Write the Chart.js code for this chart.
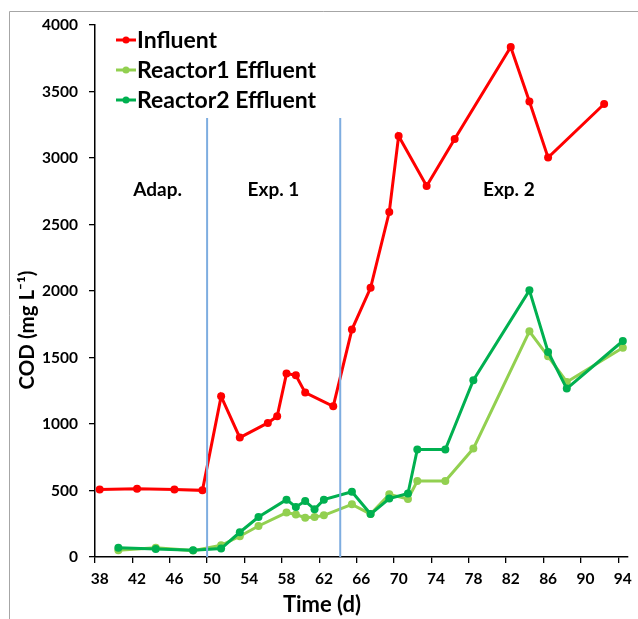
<!DOCTYPE html>
<html>
<head>
<meta charset="utf-8">
<script src="https://cdn.jsdelivr.net/npm/chart.js@4/dist/chart.umd.min.js"></script>
<style>
  html, body { margin: 0; padding: 0; background: #fff; }
  #wrap { width: 638px; height: 619px; }
</style>
</head>
<body>
<div id="wrap"><canvas id="cod-chart"></canvas></div>
<script>
const influentDays = [38, 42, 46, 49, 51, 53, 56, 57, 58, 59, 60, 63, 65, 67, 69, 70, 73, 76, 82, 84, 86, 92];
const influent = [507, 513, 507, 501, 1208, 898, 1008, 1058, 1379, 1366, 1236, 1133, 1710, 2024, 2594, 3165, 2790, 3143, 3835, 3424, 3003, 3406];

const effluentDays = [40, 44, 48, 51, 53, 55, 58, 59, 60, 61, 62, 65, 67, 69, 71, 72, 75, 78, 84, 86, 88, 94];
const reactor1 = [50, 70, 48, 88, 156, 233, 334, 319, 296, 301, 313, 396, 323, 471, 436, 571, 571, 815, 1697, 1509, 1316, 1574];
const reactor2 = [70, 60, 50, 63, 186, 301, 431, 376, 421, 359, 431, 491, 323, 439, 477, 808, 808, 1329, 2005, 1541, 1266, 1624];

const xTickLabels = [38, 42, 46, 50, 54, 58, 62, 66, 70, 74, 78, 82, 86, 90, 94];
const phaseBounds = [49.5, 63.75];
const phaseTop = 3300;
const phaseNames = ['Adap.', 'Exp. 1', 'Exp. 2'];
const phaseNameX = [44.2, 56.6, 81.8];
const phaseNameY = 2760;

const FONT = 'Lato, "Liberation Sans", sans-serif';

function pts(xs, ys) {
  return xs.map((x, i) => ({ x: x, y: ys[i] }));
}

const series = [
  { label: 'Influent', data: pts(influentDays, influent), color: '#FF0000', order: 1 },
  { label: 'Reactor1 Effluent', data: pts(effluentDays, reactor1), color: '#92D050', order: 3 },
  { label: 'Reactor2 Effluent', data: pts(effluentDays, reactor2), color: '#00B050', order: 2 }
];

const datasets = series.map(s => ({
  label: s.label,
  data: s.data,
  borderColor: s.color,
  backgroundColor: s.color,
  pointBackgroundColor: s.color,
  pointBorderColor: s.color,
  borderWidth: 3,
  pointRadius: 4,
  pointBorderWidth: 0,
  tension: 0,
  order: s.order
}));

phaseBounds.forEach(b => {
  datasets.push({
    label: '',
    data: [{ x: b, y: 0 }, { x: b, y: phaseTop }],
    borderColor: '#7EADE0',
    borderWidth: 2,
    pointRadius: 0,
    order: 0
  });
});

// frame, titles, phase names and the legend
const extras = {
  id: 'extras',
  beforeDraw(chart) {
    const ctx = chart.ctx;
    ctx.save();
    ctx.fillStyle = '#fff';
    ctx.fillRect(0, 0, chart.width, chart.height);
    ctx.strokeStyle = '#A6A6A6';
    ctx.lineWidth = 1;
    ctx.beginPath();
    ctx.moveTo(9.5, chart.height);
    ctx.lineTo(9.5, 11.5);
    ctx.lineTo(chart.width, 11.5);
    ctx.stroke();
    ctx.restore();
  },
  afterDraw(chart) {
    const ctx = chart.ctx;
    const xs = chart.scales.x, ys = chart.scales.y;
    ctx.save();
    ctx.fillStyle = '#000';
    ctx.textAlign = 'center';
    ctx.textBaseline = 'middle';

    ctx.font = 'bold 19px ' + FONT;
    phaseNames.forEach((n, i) => {
      ctx.fillText(n, xs.getPixelForValue(phaseNameX[i]), ys.getPixelForValue(phaseNameY));
    });

    ctx.font = 'bold 22px ' + FONT;
    ctx.fillText('Time (d)', 322, 605);

    ctx.save();
    ctx.translate(27, 330);
    ctx.rotate(-Math.PI / 2);
    ctx.font = 'bold 20.5px ' + FONT;
    ctx.fillText('COD (mg L\u207B\u00B9)', 0, 0);
    ctx.restore();

    // legend
    ctx.textAlign = 'left';
    ctx.font = 'bold 23px ' + FONT;
    series.forEach((s, i) => {
      const y = 40 + i * 30;
      ctx.strokeStyle = s.color;
      ctx.lineWidth = 3;
      ctx.beginPath();
      ctx.moveTo(116, y);
      ctx.lineTo(136, y);
      ctx.stroke();
      ctx.fillStyle = s.color;
      ctx.beginPath();
      ctx.arc(126, y, 3.5, 0, Math.PI * 2);
      ctx.fill();
      ctx.fillStyle = '#000';
      ctx.fillText(s.label, 137, y + 1);
    });
    ctx.restore();
  }
};

const chart = new Chart(document.getElementById('cod-chart'), {
  type: 'line',
  data: { datasets: datasets },
  options: {
    responsive: true,
    maintainAspectRatio: false,
    animation: false,
    layout: { padding: { left: 0, top: 25, right: 10.5, bottom: 0 } },
    plugins: {
      legend: { display: false },
      tooltip: { enabled: false }
    },
    scales: {
      x: {
        type: 'linear',
        min: 37.5,
        max: 94.5,
        afterBuildTicks: s => { s.ticks = xTickLabels.map(v => ({ value: v - 0.5 })); },
        afterFit: s => { s.height = 62; },
        ticks: {
          autoSkip: false,
          maxRotation: 0,
          labelOffset: 4.7,
          padding: 7,
          color: '#000',
          font: { family: FONT, size: 15.5, weight: 'bold' },
          callback: v => String(v + 0.5)
        },
        grid: { drawOnChartArea: false, tickLength: 6, color: '#000', lineWidth: 1.3 },
        border: { color: '#000', width: 1.5 }
      },
      y: {
        min: 0,
        max: 4000,
        afterFit: s => { s.width = 95; },
        ticks: {
          stepSize: 500,
          padding: 11,
          color: '#000',
          font: { family: FONT, size: 15.5, weight: 'bold' },
          callback: v => String(v)
        },
        grid: { drawOnChartArea: false, tickLength: 6, color: '#000', lineWidth: 1.3 },
        border: { color: '#000', width: 1.5 }
      }
    }
  },
  plugins: [extras]
});
</script>
</body>
</html>
